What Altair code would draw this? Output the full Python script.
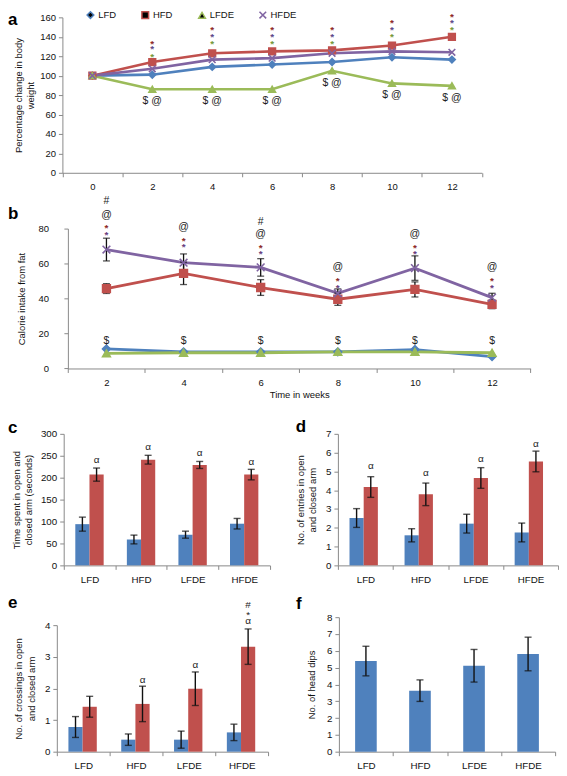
import altair as alt
import pandas as pd

FONT = "Liberation Sans"

# ---------------- data ----------------
groups4 = ["LFD", "HFD", "LFDE", "HFDE"]
colors4 = ["#4F81BD", "#C0504D", "#9BBB59", "#8064A2"]
shapes4 = ["diamond", "square", "triangle-up", "M-1,-1L1,1M-1,1L1,-1"]
arms = ["Open Arm", "Closed Arm"]
arm_colors = ["#4F81BD", "#C0504D"]

# panel a: percentage change in body weight
weeks_a = ["0", "2", "4", "6", "8", "10", "12"]
a_lfd = [100, 101, 109, 111.5, 114, 119, 116.5]
a_hfd = [100, 114, 123, 125, 126, 131, 140]
a_lfde = [100, 86, 86, 86, 105, 92, 89.5]
a_hfde = [100, 107, 116.5, 118, 123, 125, 124]
a_sig_weeks = ["2", "4", "6", "8", "10", "12"]
a_star_red = [136, 150, 150, 150, 157, 163]
a_star_purple = [130, 143, 143, 143, 150, 157]
a_star_green = [122, 136, 136, 136, 143, 150]
a_dollar_at = [74, 74, 74, 92, 80, 77]

# panel b: calorie intake from fat
weeks_b = ["2", "4", "6", "8", "10", "12"]
b_lfd = [11.2, 9.5, 9.5, 9.5, 10.8, 6.8]
b_lfde = [8.6, 9.0, 9.0, 9.5, 9.5, 9.0]
b_hfd = [45.7, 54.4, 46.3, 39.6, 45.2, 36.7]
b_hfd_err = [2.8, 6.4, 4.5, 3.5, 4.3, 2.5]
b_hfde = [68.0, 60.5, 57.8, 43.0, 57.4, 40.5]
b_hfde_err = [6.5, 5.0, 5.0, 2.5, 7.0, 2.5]
b_dollar = [15.6, 15.6, 15.6, 15.6, 15.6, 15.6]
b_at = [88, 81, 77, 58, 77, 58]
b_hash_weeks = ["2", "6"]
b_hash = [95.7, 84]
b_star_top = [82, 74.4, 70.7, 51.8, 70.7, 51.8]
b_star_bot = [78, 71, 67, 48, 67, 48]

# panel c: time spent (s)
c_open = [94, 59, 70, 95]
c_open_err = [16, 10, 8, 12]
c_closed = [207, 241, 229, 207]
c_closed_err = [15, 10, 8, 12]
c_sig_grp = ["LFD", "HFD", "LFDE", "HFDE"]
c_sig_pos = [241, 271, 256, 236]
c_sig_txt = ["α", "α", "α", "α"]

# panel d: entries
d_open = [2.52, 1.6, 2.22, 1.75]
d_open_err = [0.5, 0.35, 0.5, 0.5]
d_closed = [4.17, 3.78, 4.65, 5.53]
d_closed_err = [0.55, 0.6, 0.55, 0.55]
d_sig_grp = ["LFD", "HFD", "LFDE", "HFDE"]
d_sig_pos = [5.3, 4.9, 5.68, 6.46]
d_sig_txt = ["α", "α", "α", "α"]

# panel e: crossings
e_open = [0.78, 0.38, 0.38, 0.61]
e_open_err = [0.33, 0.18, 0.27, 0.26]
e_closed = [1.42, 1.51, 1.99, 3.32]
e_closed_err = [0.33, 0.56, 0.53, 0.56]
e_sig_grp = ["HFD", "LFDE", "HFDE", "HFDE", "HFDE"]
e_sig_pos = [2.28, 2.75, 4.12, 4.33, 4.64]
e_sig_txt = ["α", "α", "α", "*", "#"]

# panel f: head dips
f_vals = [5.39, 3.63, 5.11, 5.81]
f_err = [0.88, 0.64, 0.97, 1.0]


# ---------------- helpers ----------------
def ax(**kw):
    base = dict(domainColor="#8A8A8A", tickColor="#8A8A8A", tickSize=4,
                labelFont=FONT, labelFontSize=9.5, labelColor="#111111",
                titleFont=FONT, titleFontSize=9.5, titleFontWeight="normal",
                titleColor="#111111", grid=False, labelPadding=3)
    base.update(kw)
    return alt.Axis(**base)


def letter(ch, x, y):
    return alt.Chart(pd.DataFrame({"t": [ch]})).mark_text(
        align="left", baseline="alphabetic", font=FONT, fontSize=17,
        fontWeight="bold", color="#000000").encode(
        x=alt.value(x), y=alt.value(y), text="t:N")


def long_lines(weeks, series):
    rows = []
    for g, vals in series:
        for i, (w, v) in enumerate(zip(weeks, vals)):
            rows.append({"group": g, "week": w, "idx": i, "value": v})
    return pd.DataFrame(rows)


def text_layer(weeks, vals, txt, xdef, ydef_fn, color="#222222", size=10, dy=0, bold=False):
    df = pd.DataFrame({"week": weeks, "pos": vals, "txt": [txt] * len(weeks)})
    return alt.Chart(df).mark_text(font=FONT, fontSize=size, color=color,
                                   baseline="middle", dy=dy,
                                   fontWeight="bold" if bold else "normal").encode(
        x=xdef, y=ydef_fn("pos:Q"), text="txt:N")


# ---------------- panel a ----------------
OXA, WA, HA = 5.6, 421, 156
df_a = long_lines(weeks_a, zip(groups4, [a_lfd, a_hfd, a_lfde, a_hfde]))
xa = alt.X("week:O", scale=alt.Scale(type="band", domain=weeks_a, paddingInner=0, paddingOuter=0,
                                     range=[OXA, OXA + WA]),
           bandPosition=0.5,
           axis=ax(title=None, tickBand="extent", labelAngle=0, labelPadding=5))
axis_ya = ax(values=list(range(0, 161, 20)), title=["Percentage change in body", "weight"],
             titlePadding=4, titleLineHeight=12.5, offset=-OXA)


def ya(f):
    return alt.Y(f, scale=alt.Scale(domain=[0, 160]), axis=axis_ya)


leg_a = alt.Legend(title=None, orient="none", legendX=29, legendY=-7.5, direction="horizontal",
                   labelFont=FONT, labelFontSize=9.5, labelColor="#111111", symbolSize=45,
                   symbolStrokeWidth=1.5, columnPadding=22, labelOffset=3)
cs_a = alt.Scale(domain=groups4, range=colors4)
lines_a = alt.Chart(df_a).mark_line(strokeWidth=2.6).encode(
    x=xa, y=ya("value:Q"), color=alt.Color("group:N", scale=cs_a, legend=None), order="idx:Q")
points_a = alt.Chart(df_a).mark_point(filled=True, size=45, strokeWidth=1.6, opacity=1).encode(
    x=xa, y=ya("value:Q"),
    color=alt.Color("group:N", scale=cs_a, legend=leg_a),
    stroke=alt.Stroke("group:N", scale=cs_a, legend=leg_a),
    shape=alt.Shape("group:N", scale=alt.Scale(domain=groups4, range=shapes4), legend=leg_a))
panel_a = alt.layer(
    lines_a, points_a,
    text_layer(a_sig_weeks, a_star_red, "*", xa, ya, color="#8E2A28", size=10, dy=3, bold=True),
    text_layer(a_sig_weeks, a_star_purple, "*", xa, ya, color="#5E4A8A", size=10, dy=3, bold=True),
    text_layer(a_sig_weeks, a_star_green, "*", xa, ya, color="#77993A", size=10, dy=3, bold=True),
    text_layer(a_sig_weeks, a_dollar_at, "$ @", xa, ya, size=10.5),
    letter("a", -48.9, 8),
).properties(width=OXA + WA, height=HA)

# ---------------- panel b ----------------
OXB, WB, HB = 11.1, 464.4, 140.4
df_b = long_lines(weeks_b, zip(groups4, [b_lfd, b_hfd, b_lfde, b_hfde]))
xb = alt.X("week:O", scale=alt.Scale(type="band", domain=weeks_b, paddingInner=0, paddingOuter=0,
                                     range=[OXB, OXB + WB]),
           bandPosition=0.5,
           axis=ax(title="Time in weeks", tickBand="extent", labelAngle=0, labelPadding=5,
                   titlePadding=3))
axis_yb = ax(values=[0, 20, 40, 60, 80], title="Calorie intake from fat", titlePadding=11,
             labelPadding=15.5, offset=-OXB)


def yb(f):
    return alt.Y(f, scale=alt.Scale(domain=[0, 80]), axis=axis_yb)


cs_b = alt.Scale(domain=groups4, range=colors4)
lines_b = alt.Chart(df_b).mark_line(strokeWidth=2.8).encode(
    x=xb, y=yb("value:Q"), color=alt.Color("group:N", scale=cs_b, legend=None), order="idx:Q")
points_b = alt.Chart(df_b).mark_point(filled=True, size=60, strokeWidth=1.6, opacity=1).encode(
    x=xb, y=yb("value:Q"),
    color=alt.Color("group:N", scale=cs_b, legend=None),
    stroke=alt.Stroke("group:N", scale=cs_b, legend=None),
    shape=alt.Shape("group:N", scale=alt.Scale(domain=groups4, range=shapes4), legend=None))
err_rows = []
for g, vals, errs in [("HFD", b_hfd, b_hfd_err), ("HFDE", b_hfde, b_hfde_err)]:
    for w, v, e in zip(weeks_b, vals, errs):
        err_rows.append({"group": g, "week": w, "lo": v - e, "hi": v + e})
df_b_err = pd.DataFrame(err_rows)
rules_b = alt.Chart(df_b_err).mark_rule(color="#111111", strokeWidth=1.3).encode(
    x=xb, y=yb("lo:Q"), y2="hi:Q")
caps_hi_b = alt.Chart(df_b_err).mark_tick(color="#111111", size=7, thickness=1.3).encode(
    x=xb, y=yb("hi:Q"))
caps_lo_b = alt.Chart(df_b_err).mark_tick(color="#111111", size=7, thickness=1.3).encode(
    x=xb, y=yb("lo:Q"))
panel_b = alt.layer(
    lines_b, rules_b, caps_hi_b, caps_lo_b, points_b,
    text_layer(weeks_b, b_dollar, "$", xb, yb, size=10.5),
    text_layer(weeks_b, b_at, "@", xb, yb, size=10.5),
    text_layer(b_hash_weeks, b_hash, "#", xb, yb, size=10.5),
    text_layer(weeks_b, b_star_top, "*", xb, yb, color="#8E2A28", size=10, dy=3, bold=True),
    text_layer(weeks_b, b_star_bot, "*", xb, yb, color="#6A3F80", size=10, dy=3, bold=True),
    letter("b", -48.9, -9.8),
).properties(width=OXB + WB, height=HB)


# ---------------- grouped bar panels ----------------
def grouped_panel(ch, opens, open_err, closeds, closed_err, sig_grp, sig_pos, sig_txt,
                  ymax, yvals, ytitle, title_pad, ox, width, height, lx, ly, leg_font, row_pad,
                  lett_x, lett_y):
    rows = []
    for g, v, e in zip(groups4, opens, open_err):
        rows.append({"grp": g, "arm": "Open Arm", "val": v, "lo": v - e, "hi": v + e})
    for g, v, e in zip(groups4, closeds, closed_err):
        rows.append({"grp": g, "arm": "Closed Arm", "val": v, "lo": v - e, "hi": v + e})
    df = pd.DataFrame(rows)
    sig = pd.DataFrame({"grp": sig_grp, "arm": ["Closed Arm"] * len(sig_grp),
                        "pos": sig_pos, "txt": sig_txt})
    x = alt.X("grp:N", sort=groups4,
              scale=alt.Scale(type="band", domain=groups4, paddingInner=0, paddingOuter=0,
                              range=[ox, ox + width]),
              bandPosition=0.5,
              axis=ax(title=None, tickBand="extent", labelAngle=0, labelPadding=5, labelFontSize=9.8))
    xo = alt.XOffset("arm:N", sort=arms,
                     scale=alt.Scale(type="band", domain=arms, paddingInner=0, paddingOuter=0.818))
    yax = ax(values=yvals, title=ytitle, titlePadding=title_pad, titleLineHeight=12.5,
             labelFontSize=9.8, offset=-ox)
    ys = alt.Scale(domain=[0, ymax])

    def y(f):
        return alt.Y(f, scale=ys, axis=yax)

    leg = alt.Legend(title=None, orient="none", legendX=lx, legendY=ly, symbolType="square",
                     symbolSize=40, symbolStrokeWidth=0, labelFont=FONT, labelFontSize=leg_font,
                     labelColor="#111111", labelOffset=3, rowPadding=row_pad)
    bars = alt.Chart(df).mark_bar().encode(
        x=x, xOffset=xo, y=y("val:Q"),
        color=alt.Color("arm:N", sort=arms, scale=alt.Scale(domain=arms, range=arm_colors), legend=leg))
    rules = alt.Chart(df).mark_rule(color="#111111", strokeWidth=1.4).encode(
        x=x, xOffset=xo, y=y("lo:Q"), y2="hi:Q")
    caps_hi = alt.Chart(df).mark_tick(color="#111111", size=7, thickness=1.4).encode(
        x=x, xOffset=xo, y=y("hi:Q"))
    caps_lo = alt.Chart(df).mark_tick(color="#111111", size=7, thickness=1.4).encode(
        x=x, xOffset=xo, y=y("lo:Q"))
    texts = alt.Chart(sig).mark_text(font=FONT, fontSize=10, color="#222222", baseline="middle").encode(
        x=x, xOffset=xo, y=y("pos:Q"), text="txt:N")
    return alt.layer(bars, rules, caps_hi, caps_lo, texts, letter(ch, lett_x, lett_y)).properties(
        width=ox + width, height=height)


panel_c = grouped_panel("c", c_open, c_open_err, c_closed, c_closed_err, c_sig_grp, c_sig_pos, c_sig_txt,
                        300, list(range(0, 301, 50)), ["Time spent in open and", "closed arm (seconds)"],
                        7, 6.9, 207, 132, 144.7, -8, 10, 1.5, -48.9, -1.2)
panel_d = grouped_panel("d", d_open, d_open_err, d_closed, d_closed_err, d_sig_grp, d_sig_pos, d_sig_txt,
                        7, list(range(0, 8)), ["No. of entries in open", "and closed arm"],
                        8, 0, 221, 132, 127.8, -8, 10, 1.5, -42.2, -2.2)
panel_e = grouped_panel("e", e_open, e_open_err, e_closed, e_closed_err, e_sig_grp, e_sig_pos, e_sig_txt,
                        4, list(range(0, 5)), ["No. of crossings in open", "and closed arm"],
                        8, 0, 212, 127, 103.9, -16.9, 11, 2, -48.9, -16.9)

# ---------------- panel f ----------------
df_f = pd.DataFrame({"grp": groups4, "val": f_vals,
                     "lo": [v - e for v, e in zip(f_vals, f_err)],
                     "hi": [v + e for v, e in zip(f_vals, f_err)]})
xf = alt.X("grp:N", sort=groups4,
           scale=alt.Scale(type="band", domain=groups4, paddingInner=0, paddingOuter=0),
           bandPosition=0.5,
           axis=ax(title=None, tickBand="extent", labelAngle=0, labelPadding=5, labelFontSize=9.8))
axis_yf = ax(values=list(range(0, 9)), title="No. of head dips", titlePadding=10, labelFontSize=9.8)


def yf(f):
    return alt.Y(f, scale=alt.Scale(domain=[0, 8]), axis=axis_yf)


bars_f = alt.Chart(df_f).mark_bar(width=alt.RelativeBandSize(0.4), color="#4F81BD").encode(
    x=xf, y=yf("val:Q"))
rules_f = alt.Chart(df_f).mark_rule(color="#111111", strokeWidth=1.4).encode(
    x=xf, y=yf("lo:Q"), y2="hi:Q")
caps_hi_f = alt.Chart(df_f).mark_tick(color="#111111", size=7, thickness=1.4).encode(
    x=xf, y=yf("hi:Q"))
caps_lo_f = alt.Chart(df_f).mark_tick(color="#111111", size=7, thickness=1.4).encode(
    x=xf, y=yf("lo:Q"))
panel_f = alt.layer(bars_f, rules_f, caps_hi_f, caps_lo_f, letter("f", -43.1, -8.1)).properties(
    width=217, height=135)

# ---------------- layout (flow layout, panels placed by their outer bounds) ----------------
top_block = alt.concat(panel_a, panel_b, columns=1, spacing=4, align="none")
bottom_block = alt.concat(panel_c, panel_d, panel_e, panel_f, columns=2, align="none",
                          spacing=alt.RowColnumber(row=10, column=24.1))

chart = alt.concat(top_block, bottom_block, columns=1, spacing=17, align="none").properties(
    padding={"left": 0, "top": 0, "right": 0, "bottom": 0}).configure(
    font=FONT, padding=0).configure_view(stroke=None)

chart.save("out.html", embed_options={"renderer": "svg", "actions": False})
